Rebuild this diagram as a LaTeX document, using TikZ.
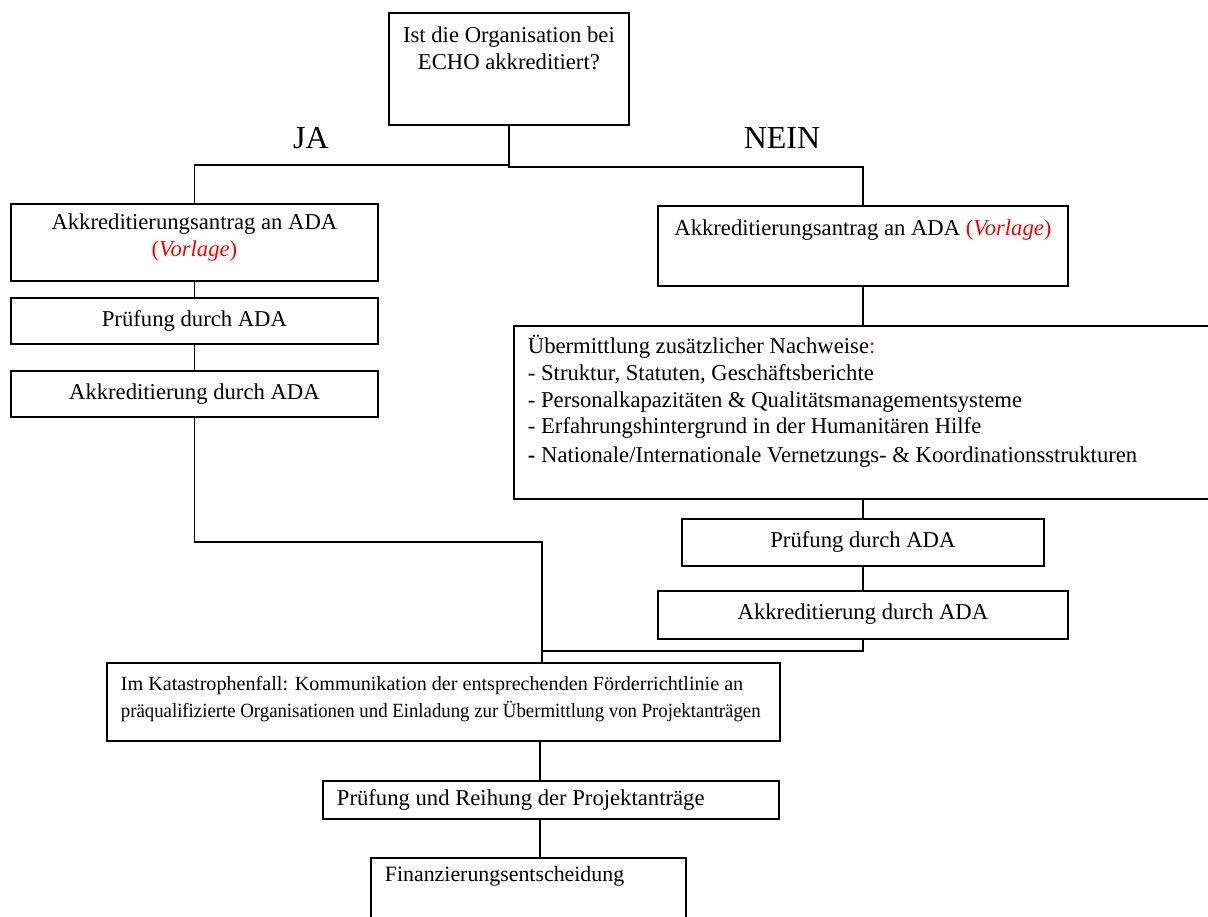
\documentclass[tikz,border=0pt]{standalone}
\usepackage{fontspec}
\setmainfont{Liberation Serif}
\usepackage{xcolor}
\usepackage{graphicx}

% box content: width, height, first baseline, alignment, text
\newcommand{\boxtxt}[5]{\parbox[c][#2][t]{#1}{#4\rule{0pt}{#3}#5}}
\newcommand{\lefttxt}{\raggedright\leftskip=10.5pt}
\newcommand{\vorlage}{\textcolor{red}{(\textit{Vorlage})}}

\begin{document}
\begin{tikzpicture}[x=0.75pt,y=0.75pt,yscale=-1,xscale=1,
  flowbox/.style={draw, line width=1.4pt, inner sep=0pt, anchor=north west, font=\fontsize{17}{20}\selectfont},
  link/.style={line width=1.4pt},
  branch/.style={anchor=base, inner sep=0.75pt, font=\fontsize{24}{28}\selectfont}]
\useasboundingbox (0,0) rectangle (1208,917);
\clip (0,0) rectangle (1208,917);

% question
\node[flowbox] (top) at (388,12) {\boxtxt{180pt}{84pt}{22.5pt}{\centering}{Ist die Organisation bei\\ECHO akkreditiert?}};
\node[branch] (ja) at (311,148) {JA};
\node[branch] (nein) at (782,148) {NEIN};

% left column (JA)
\node[flowbox] (L1) at (10,203) {\boxtxt{275.25pt}{57.75pt}{19.5pt}{\centering}{Akkreditierungsantrag an ADA\\\vorlage}};
\node[flowbox] (L2) at (10,297) {\boxtxt{275.25pt}{34.5pt}{21.75pt}{\centering}{Prüfung durch ADA}};
\node[flowbox] (L3) at (10,370) {\boxtxt{275.25pt}{34.5pt}{21.75pt}{\centering}{Akkreditierung durch ADA}};

% right column (NEIN)
\node[flowbox] (R1) at (657,205) {\boxtxt{307.5pt}{60pt}{22.5pt}{\centering}{Akkreditierungsantrag an ADA \vorlage}};
\node[flowbox] (R2) at (513,325) {\boxtxt{540pt}{129.75pt}{21pt}{\lefttxt}{Übermittlung zusätzlicher Nachweise\textcolor{red}{:}\\
  - Struktur, Statuten, Geschäftsberichte\\
  - Personalkapazitäten \& Qualitätsmanagementsysteme\\
  - Erfahrungshintergrund in der Humanitären Hilfe\\[1.5pt]
  \textbf{-} Nationale/Internationale Vernetzungs- \& Koordinationsstrukturen}};
\node[flowbox] (R3) at (681,518) {\boxtxt{271.5pt}{35.25pt}{21.75pt}{\centering}{Prüfung durch ADA}};
\node[flowbox] (R4) at (657,590) {\boxtxt{307.5pt}{36pt}{21.75pt}{\centering}{Akkreditierung durch ADA}};

% common steps
\node[flowbox, font=\fontsize{15.1}{20.2}\selectfont] (K) at (106,662) {\boxtxt{504.75pt}{58.5pt}{21pt}{\lefttxt}{\mbox{Im Katastrophenfall: Kommunikation der entsprechenden Förderrichtlinie an}\\
  \scalebox{0.933}[1]{präqualifizierte Organisationen und Einladung zur Übermittlung von Projektanträgen}}};
\node[flowbox] (P) at (322,780) {\boxtxt{342pt}{28.5pt}{18.75pt}{\lefttxt}{Prüfung und Reihung der Projektanträge}};
\node[flowbox, font=\fontsize{16.4}{20}\selectfont] (F) at (370,857) {\boxtxt{236.25pt}{56.25pt}{18pt}{\lefttxt}{Finanzierungsentscheidung}};

\coordinate (merge) at (542,651);
\coordinate (stem) at (540,760);

% connectors
\draw[link] (top.south) -- ++(0,39) -| (L1.north);
\draw[link] (top.south) -- ++(0,41) -| (R1.north);
\draw[link] (L1.south) -- (L2.north);
\draw[link] (L2.south) -- (L3.north);
\draw[link] (L3.south) -- ++(0,124) -| (merge) -- (merge |- K.north);
\draw[link] (R1.south) -- (R1.south |- R2.north);
\draw[link] (R3.north |- R2.south) -- (R3.north);
\draw[link] (R3.south) -- (R4.north);
\draw[link] (R4.south) |- (merge);
\draw[link] (K.south -| stem) -- (P.north -| stem);
\draw[link] (P.south -| stem) -- (F.north -| stem);

\end{tikzpicture}
\end{document}
